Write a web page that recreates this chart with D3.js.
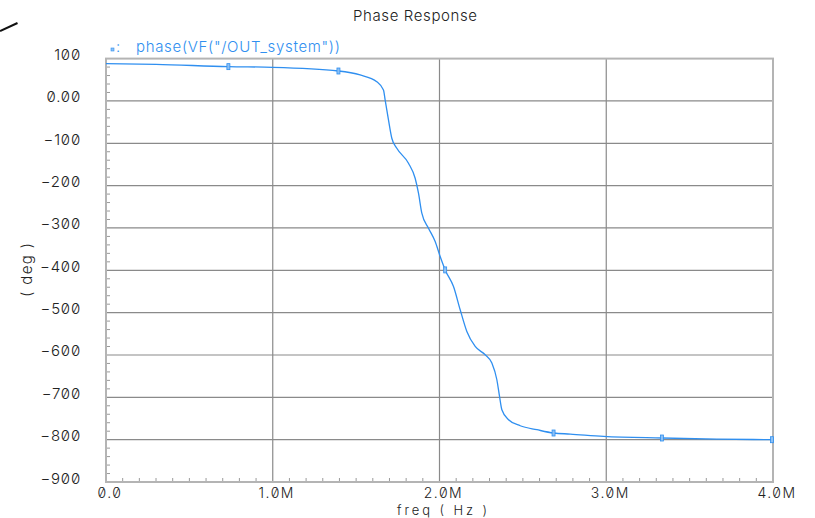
<!DOCTYPE html>
<html>
<head>
<meta charset="utf-8">
<script src="https://cdn.jsdelivr.net/npm/d3@7"></script>
<style>
  html, body { margin: 0; padding: 0; background: #fff; }
  svg text { font-family: Inter, "DejaVu Sans", sans-serif; font-variant-numeric: slashed-zero; font-weight: 300; }
</style>
</head>
<body>
<svg id="chart" width="815" height="518"></svg>
<script>
// ---- data ----
const freqMHz = [0, 0.30, 0.734, 1.00, 1.394, 1.524, 1.624, 1.664, 1.674, 1.694, 1.714, 1.744, 1.814, 1.854, 1.874, 1.894, 1.934, 1.974, 2.004, 2.034, 2.084, 2.124, 2.164, 2.214, 2.274, 2.314, 2.344, 2.360, 2.374, 2.414, 2.484, 2.584, 2.684, 2.784, 2.984, 3.334, 3.664, 3.994];
const phaseDeg = [88, 86.5, 81, 79.5, 70.7, 61.3, 45.5, 25.9, 2.3, -44.9, -88.1, -111.7, -147.1, -182.5, -217.9, -265.1, -300.5, -332.1, -367.5, -399.1, -438.3, -493.3, -544.5, -579.9, -599.5, -619.1, -658.5, -697.9, -729.3, -752.9, -767.1, -776.5, -784.3, -786.7, -792.3, -796.1, -798.5, -800.1];
const markerMHz = [0.734, 1.394, 2.034, 2.684, 3.334, 3.994];
const markerDeg = [81, 70.7, -399.1, -784.3, -796.1, -800.1];
const yTicks = [100, 0, -100, -200, -300, -400, -500, -600, -700, -800, -900];
const yTickLabels = ["100", "0.00", "\u2212100", "\u2212200", "\u2212300", "\u2212400", "\u2212500", "\u2212600", "\u2212700", "\u2212800", "\u2212900"];
const xTicks = [0, 1, 2, 3, 4];
const xTickLabels = ["0.0", "1.0M", "2.0M", "3.0M", "4.0M"];
const titleText = "Phase Response";
const legendText = "phase(VF(\"/OUT_system\"))";
const xLabel = "freq ( Hz )";
const yLabel = "( deg )";

// ---- layout ----
const svg = d3.select("#chart");
const L = 106, R = 773, T = 58.6, B = 482;
const x = d3.scaleLinear().domain([0, 4]).range([L, R]);
const y = d3.scaleLinear().domain([-900, 100]).range([B, T]);
const curveColor = "#2f8ff0";
const textColor = "#222";

// grid lines
const g = svg.append("g");
g.selectAll("line.hg").data(yTicks.filter(v => v > -900 && v < 100)).enter().append("line")
  .attr("x1", L).attr("x2", R).attr("y1", d => y(d)).attr("y2", d => y(d))
  .attr("stroke", "#8a8a8a").attr("stroke-width", 1.2);
g.selectAll("line.vg").data(xTicks.filter(v => v > 0 && v < 4)).enter().append("line")
  .attr("y1", T).attr("y2", B).attr("x1", d => x(d)).attr("x2", d => x(d))
  .attr("stroke", "#8a8a8a").attr("stroke-width", 1.2);

// minor ticks
const yMinor = d3.range(-900, 100, 20).filter(v => v % 100 !== 0);
g.selectAll("line.ym").data(yMinor).enter().append("line")
  .attr("x1", L).attr("x2", L + 4).attr("y1", d => y(d)).attr("y2", d => y(d))
  .attr("stroke", "#9a9a9a").attr("stroke-width", 1);
const xMinor = d3.range(1, 40).map(i => i / 10).filter(v => Math.abs(v - Math.round(v)) > 1e-9);
g.selectAll("line.xm").data(xMinor).enter().append("line")
  .attr("y1", B).attr("y2", B - 4).attr("x1", d => x(d)).attr("x2", d => x(d))
  .attr("stroke", "#9a9a9a").attr("stroke-width", 1);

// frame
g.append("rect").attr("x", L).attr("y", T).attr("width", R - L).attr("height", B - T)
  .attr("fill", "none").attr("stroke", "#b4b4b4").attr("stroke-width", 2);

// curve
const pts = freqMHz.map((f, i) => [f, phaseDeg[i]]);
svg.append("path").datum(pts)
  .attr("d", d3.line().x(d => x(d[0])).y(d => y(d[1])).curve(d3.curveMonotoneX))
  .attr("fill", "none").attr("stroke", curveColor).attr("stroke-width", 1.3);

// markers
const mk = svg.append("g");
markerMHz.forEach((f, i) => {
  const cx = x(f), cy = y(markerDeg[i]);
  mk.append("rect").attr("x", cx - 1.5).attr("y", cy - 3).attr("width", 3).attr("height", 6)
    .attr("fill", "#8cc0f5").attr("stroke", curveColor).attr("stroke-width", 0.8);
});

// y tick labels
svg.selectAll("text.yl").data(yTicks).enter().append("text")
  .attr("x", 81).attr("y", d => y(d) + 1.5)
  .attr("text-anchor", "end").attr("font-size", 15).attr("letter-spacing", 0.8).attr("fill", textColor)
  .text((d, i) => yTickLabels[i]);

// x tick labels
svg.selectAll("text.xl").data(xTicks).enter().append("text")
  .attr("x", d => x(d) + 4).attr("y", 497.5)
  .attr("text-anchor", "middle").attr("font-size", 14).attr("letter-spacing", 1.5).attr("fill", textColor)
  .text((d, i) => xTickLabels[i]);

// axis titles
svg.append("text").attr("x", 397).attr("y", 515)
  .attr("font-size", 13).attr("textLength", 90).attr("lengthAdjust", "spacing")
  .attr("fill", textColor).text(xLabel);
svg.append("text").attr("transform", "translate(32,297) rotate(-90)")
  .attr("font-size", 15).attr("textLength", 54).attr("lengthAdjust", "spacing")
  .attr("fill", textColor).text(yLabel);

// title
svg.append("text").attr("x", 353).attr("y", 20.5)
  .attr("font-size", 15).attr("textLength", 124).attr("lengthAdjust", "spacing")
  .attr("fill", textColor).text(titleText);

// legend
const lg = svg.append("g");
lg.append("rect").attr("x", 111).attr("y", 48).attr("width", 3).attr("height", 3)
  .attr("fill", "#8cc0f5").attr("stroke", curveColor).attr("stroke-width", 0.6);
lg.append("text").attr("x", 116).attr("y", 52).attr("font-size", 15).attr("fill", curveColor).text(":");
lg.append("text").attr("x", 136).attr("y", 52).attr("font-size", 15)
  .attr("textLength", 204).attr("lengthAdjust", "spacing")
  .attr("fill", curveColor).text(legendText);

// stray stroke at top-left
svg.append("line").attr("x1", 0).attr("y1", 31).attr("x2", 17.5).attr("y2", 23)
  .attr("stroke", "#111").attr("stroke-width", 2);
</script>
</body>
</html>
